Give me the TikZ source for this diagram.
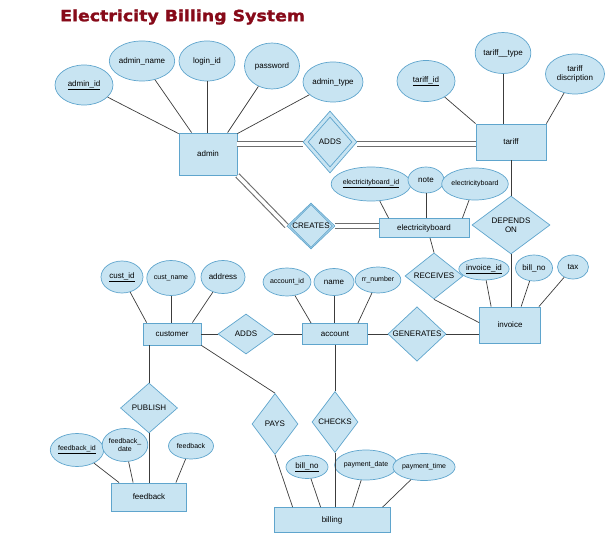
\documentclass[tikz,border=0pt]{standalone}
\usepackage{fontspec}
\setmainfont{Liberation Sans}
\newfontfamily\titlefont{DejaVu Sans}[FakeStretch=1.12, FakeBold=1.6]
\usetikzlibrary{shapes.geometric,calc}
\definecolor{ef}{RGB}{200,228,242}
\definecolor{eb}{RGB}{95,165,205}
\definecolor{lc}{RGB}{60,60,60}
\definecolor{dc}{RGB}{110,110,110}
\definecolor{tc}{RGB}{135,10,25}
\newcommand{\lbl}{\fontsize{8}{9}\selectfont}
\newcommand{\lbs}{\fontsize{7}{8}\selectfont}
\tikzset{
  ent/.style={rectangle, draw=eb, fill=ef, line width=0.8pt, inner sep=1pt, font=\lbl},
  attr/.style={ellipse, draw=eb, fill=ef, line width=0.7pt, inner sep=0pt, font=\lbl, align=center},
  rel/.style={diamond, draw=eb, fill=ef, line width=0.7pt, inner sep=0pt, font=\lbl, align=center},
  relin/.style={diamond, draw=eb, line width=0.7pt, inner sep=0pt, font=\lbl},
  conn/.style={draw=lc, line width=0.7pt},
  dconn/.style={draw=dc, double=white, double distance=3.5pt, line width=1.1pt},
  sz/.style 2 args={minimum width=#1pt, minimum height=#2pt},
}
\begin{document}
\begin{tikzpicture}[x=1pt,y=-1pt]
\useasboundingbox (0,0) rectangle (605,537);
\node[font=\titlefont\bfseries\fontsize{15.5}{17}\selectfont, text=tc, anchor=west, inner sep=0pt] (title) at (60,17) {Electricity Billing System};

% entities
\node[ent, sz={58}{42}] (admin) at (208,154) {admin};
\node[ent, sz={70}{36}] (tariff) at (511,142) {tariff};
\node[ent, sz={90}{19}] (eboard) at (424,228) {electricityboard};
\node[ent, sz={61}{36}] (invoice) at (510,325) {invoice};
\node[ent, sz={65}{21}] (account) at (335,334) {account};
\node[ent, sz={58}{22}] (customer) at (172,334) {customer};
\node[ent, sz={75}{28}] (feedback) at (149,497) {feedback};
\node[ent, sz={116}{25}] (billing) at (332,520) {billing};

% relationships
\node[rel, sz={54}{62}] (adds) at (330,142) {};
\node[relin, sz={44}{50}] (addsin) at (330,142) {ADDS};
\node[rel, sz={48}{46}] (creates) at (311,226) {};
\node[relin, sz={40}{37}] (createsin) at (311,226) {CREATES};
\node[rel, sz={78}{58}] (depends) at (511,225) {DEPENDS\\ON};
\node[rel, sz={58}{32}] (receives) at (434,276) {RECEIVES};
\node[rel, sz={58}{40}] (generates) at (417,334) {GENERATES};
\node[rel, sz={56}{40}] (adds2) at (246,334) {ADDS};
\node[rel, sz={57}{50}] (publish) at (149,408) {PUBLISH};
\node[rel, sz={46}{61}] (pays) at (275,424) {PAYS};
\node[rel, sz={46}{61}] (checks) at (335,422) {CHECKS};

% attributes
\node[attr, sz={58}{40}] (adminid) at (84,85) {\underline{admin\_id}};
\node[attr, sz={58}{40}] (adminname) at (142,61) {admin\_name};
\node[attr, sz={56}{40}] (loginid) at (207,61) {login\_id};
\node[attr, sz={55}{46}] (password) at (272,66) {password};
\node[attr, sz={60}{40}] (admintype) at (333,82) {admin\_type};
\node[attr, sz={58}{41}] (tariffid) at (426,81) {\underline{tariff\_id}};
\node[attr, sz={51}{41}] (tarifftype) at (503,53) {tariff\_\_type};
\node[attr, sz={59}{40}] (tariffdisc) at (575,74) {tariff\\discription};
\node[attr, sz={69}{34}, font=\lbs] (ebid) at (371,184) {\underline{electricityboard\_id}};
\node[attr, sz={36}{26}] (note) at (426,180) {note};
\node[attr, sz={54}{32}, font=\lbs] (ebattr) at (475,184) {electricityboard};
\node[attr, sz={41}{22}] (invoiceid) at (484,269) {\underline{invoice\_id}};
\node[attr, sz={37}{26}] (billno) at (534,268) {bill\_no};
\node[attr, sz={31}{24}] (tax) at (573,267) {tax};
\node[attr, sz={43}{28}, font=\lbs] (accountid) at (287,282) {account\_id};
\node[attr, sz={40}{27}] (name) at (334,282) {name};
\node[attr, sz={40}{26}, font=\lbs] (rrnumber) at (378,280) {rr\_number};
\node[attr, sz={42}{32}] (custid) at (122,277) {\underline{cust\_id}};
\node[attr, sz={42}{35}, font=\lbs] (custname) at (171,278) {cust\_name};
\node[attr, sz={44}{33}] (address) at (223,277) {address};
\node[attr, sz={45}{33}, font=\lbs] (feedbackid) at (77,450) {\underline{feedback\_id}};
\node[attr, sz={37}{33}, font=\lbs] (feedbackdate) at (125,445) {feedback\_\\date};
\node[attr, sz={45}{26}, font=\lbs] (feedbackattr) at (191,446) {feedback};
\node[attr, sz={42}{23}] (billno2) at (307,467) {\underline{bill\_no}};
\node[attr, sz={54}{30}, font=\lbs] (paydate) at (366,465) {payment\_date};
\node[attr, sz={58}{27}, font=\lbs] (paytime) at (424,467) {payment\_time};

% attribute connectors
\draw[conn] (adminid) -- ($(admin.north west)+(0,1)$);
\draw[conn] (adminname) -- ($(admin.north west)+(13,0)$);
\draw[conn] (loginid) -- (loginid |- admin.north);
\draw[conn] (password) -- ($(admin.north west)+(49,0)$);
\draw[conn] (admintype) -- ($(admin.north east)+(0,1)$);
\draw[conn] (tariffid) -- (tariff.north west);
\draw[conn] (tarifftype) -- (tarifftype |- tariff.north);
\draw[conn] (tariffdisc) -- (tariff.north east);
\draw[conn] (ebid) -- ($(eboard.north west)+(10,0)$);
\draw[conn] (note) -- (note |- eboard.north);
\draw[conn] (ebattr) -- ($(eboard.north east)+(-7,0)$);
\draw[conn] (invoiceid) -- ($(invoice.north west)+(12,0)$);
\draw[conn] (billno) -- ($(invoice.north west)+(42,0)$);
\draw[conn] (tax) -- ($(invoice.north east)+(-2,0)$);
\draw[conn] (accountid) -- ($(account.north west)+(9,0)$);
\draw[conn] (name) -- (name |- account.north);
\draw[conn] (rrnumber) -- ($(account.north east)+(-10,0)$);
\draw[conn] (custid) -- ($(customer.north west)+(4,0)$);
\draw[conn] (custname) -- (custname |- customer.north);
\draw[conn] (address) -- ($(customer.north east)+(-9,0)$);
\draw[conn] (feedbackid) -- ($(feedback.north west)+(8,0)$);
\draw[conn] (feedbackdate) -- ($(feedback.north west)+(22,0)$);
\draw[conn] (feedbackattr) -- ($(feedback.north east)+(-11,0)$);
\draw[conn] (billno2) -- ($(billing.north west)+(47,0)$);
\draw[conn] (paydate) -- ($(billing.north west)+(79,0)$);
\draw[conn] (paytime) -- ($(billing.north west)+(109,0)$);

% relationship connectors
\draw[dconn] ($(admin.east)+(0,-10)$) -- ($(adds.west)+(0,2)$);
\draw[dconn] ($(adds.east)+(0,2)$) -- ($(tariff.west)+(0,2)$);
\draw[dconn] (admin.south east) -- (creates.west);
\draw[dconn] (creates.east) -- (eboard.west |- creates.east);
\draw[conn] (tariff.south) -- (depends.north);
\draw[conn] (depends.south) -- (depends.south |- invoice.north);
\draw[conn] ($(eboard.south)+(6,0)$) -- (receives.north);
\draw[conn] (receives.south) -- ($(invoice.north west)+(0,16)$);
\draw[conn] (account.east) -- (generates.west);
\draw[conn] (generates.east) -- (generates.east -| invoice.west);
\draw[conn] (customer.east) -- (adds2.west);
\draw[conn] (adds2.east) -- (account.west);
\draw[conn] (publish.north |- customer.south) -- (publish.north);
\draw[conn] (publish.south) -- (publish.south |- feedback.north);
\draw[conn] (customer.south east) -- (pays.north);
\draw[conn] (pays.south) -- ($(billing.north west)+(19,0)$);
\draw[conn] (account.south) -- (checks.north);
\draw[conn] (checks.south) -- (checks.south |- billing.north);
\end{tikzpicture}
\end{document}
